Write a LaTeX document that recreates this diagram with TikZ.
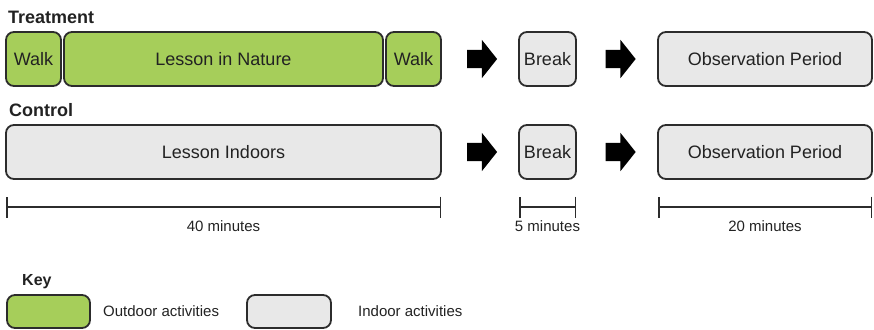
\documentclass[tikz,border=0pt]{standalone}
\usepackage{fontspec}
\setmainfont{Liberation Sans}
\usetikzlibrary{positioning,arrows.meta,shapes,shapes.arrows}
\usetikzlibrary{calc}
\definecolor{outgreen}{RGB}{166,206,90}
\definecolor{ingray}{RGB}{232,232,232}
\definecolor{edgegray}{RGB}{44,44,44}
\definecolor{txtgray}{RGB}{34,34,34}
\tikzstyle{obox}=[rectangle, rounded corners=8pt, draw=edgegray, fill=outgreen, line width=1.8pt,
                  minimum height=54pt, inner sep=0pt, outer sep=0pt, text=txtgray,
                  font=\fontsize{18}{20}\selectfont, text centered]
\tikzstyle{ibox}=[obox, fill=ingray]
\tikzstyle{hbox}=[rectangle, inner sep=0pt, text=txtgray, font=\bfseries\fontsize{18}{20}\selectfont]
\tikzstyle{sbox}=[rectangle, inner sep=0pt, text=txtgray, font=\fontsize{15}{17}\selectfont]
\tikzstyle{barrow}=[single arrow, fill=black, draw=none, inner xsep=0pt, inner ysep=9pt,
                    minimum height=30pt, minimum width=38pt, single arrow head extend=10pt,
                    single arrow tip angle=103]
\tikzstyle{tline}=[{Bar[width=21pt]}-{Bar[width=21pt]}, line width=1.5pt, draw=edgegray]

\begin{document}
\begin{tikzpicture}[node distance=0mm]
\useasboundingbox (0,0) rectangle (874pt,-329pt);

\node (WALKA) [obox, minimum width=55pt, anchor=north west] at (6pt,-32pt) {Walk};
\node (LNAT) [obox, minimum width=319pt, right=3pt of WALKA] {Lesson in Nature};
\node (WALKB) [obox, minimum width=55pt, right=3pt of LNAT] {Walk};
\node (BRKT) [ibox, minimum width=57pt, right=78pt of WALKB] {Break};
\node (OBST) [ibox, minimum width=214pt, right=82pt of BRKT] {Observation Period};
\node (TRT) [hbox, anchor=base west] at ([xshift=2pt,yshift=8pt]WALKA.north west) {Treatment};

\node (ARRT1) [barrow] at ($(WALKB.east)!0.48!(BRKT.west)$) {};
\node (ARRT2) [barrow] at ($(BRKT.east)!0.5!(OBST.west)$) {};

\node (LIND) [ibox, minimum width=435pt, below=39pt of WALKA.south west, anchor=north west] {Lesson Indoors};
\node (BRKC) [ibox, minimum width=57pt, below=39pt of BRKT] {Break};
\node (OBSC) [ibox, minimum width=214pt, below=39pt of OBST] {Observation Period};
\node (CTRL) [hbox, anchor=base west] at ([xshift=3pt,yshift=9pt]LIND.north west) {Control};

\node (ARRC1) [barrow] at ($(LIND.east)!0.48!(BRKC.west)$) {};
\node (ARRC2) [barrow] at ($(BRKC.east)!0.5!(OBSC.west)$) {};

\coordinate (L40A) at ([yshift=-28pt]LIND.south west);
\coordinate (L40B) at ([yshift=-28pt]LIND.south east);
\coordinate (L5A) at ([yshift=-28pt]BRKC.south west);
\coordinate (L5B) at ([yshift=-28pt]BRKC.south east);
\coordinate (L20A) at ([yshift=-28pt]OBSC.south west);
\coordinate (L20B) at ([yshift=-28pt]OBSC.south east);
 \draw[tline] (L40A) -- node (T40) [sbox, below=13pt] {40 minutes} (L40B);
 \draw[tline] (L5A) -- node (T5) [sbox, below=13pt] {5 minutes} (L5B);
 \draw[tline] (L20A) -- node (T20) [sbox, below=13pt] {20 minutes} (L20B);

\node (KEYO) [obox, minimum width=83pt, minimum height=33pt, anchor=north west] at (7pt,-295pt) {};
\node (KEY) [hbox, font=\bfseries\fontsize{16}{18}\selectfont, anchor=base west] at ([xshift=15pt,yshift=10pt]KEYO.north west) {Key};
\node (KEYOT) [sbox, right=13pt of KEYO] {Outdoor activities};
\node (KEYI) [ibox, minimum width=84pt, minimum height=33pt, right=157pt of KEYO] {};
\node (KEYIT) [sbox, right=27pt of KEYI] {Indoor activities};

\end{tikzpicture}
\end{document}
